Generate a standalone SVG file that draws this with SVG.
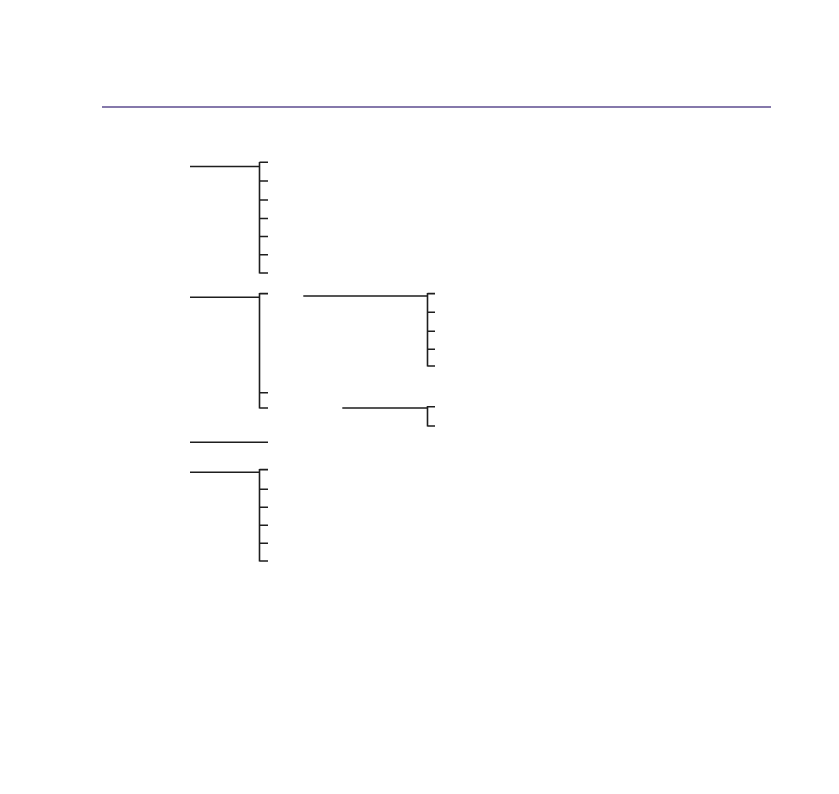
<svg xmlns="http://www.w3.org/2000/svg" width="839" height="794" viewBox="0 0 839 794">
<style>
.rule{stroke:#8579ab;stroke-width:2.2;fill:none}
.c{stroke:#1e1e1e;stroke-width:1.6;fill:none;stroke-linecap:butt}
</style>
<rect width="839" height="794" fill="#ffffff"/>
<line class="rule" x1="102" y1="107" x2="771" y2="107"/>
<g id="connectors">
<g id="tree1">
<path class="c" d="M190 166.5H259.5M259.5 162V273.5M259.5 162.3H268M259.5 181H268M259.5 200H268M259.5 218.5H268M259.5 236.5H268M259.5 254.7H268M259.5 273H268"/>
</g>
<g id="tree2">
<path class="c" d="M190 297.3H259.5M259.5 293V408.5M259.5 293.6H268M259.5 392.7H268M259.5 408H268"/>
</g>
<g id="subtreeA">
<path class="c" d="M303.3 296H427.5M427.5 293V366.5M427.5 293.6H435M427.5 312.3H435M427.5 331.3H435M427.5 349.3H435M427.5 366H435"/>
</g>
<g id="subtreeB">
<path class="c" d="M342.3 408H427.5M427.5 406V426.5M427.5 406.7H435M427.5 426H435"/>
</g>
<g id="tree3">
<path class="c" d="M190 442.3H268"/>
</g>
<g id="tree4">
<path class="c" d="M190 472.3H259.5M259.5 469V561.5M259.5 469.6H268M259.5 489.3H268M259.5 507.3H268M259.5 525.3H268M259.5 543.3H268M259.5 561H268"/>
</g>
</g>
</svg>
